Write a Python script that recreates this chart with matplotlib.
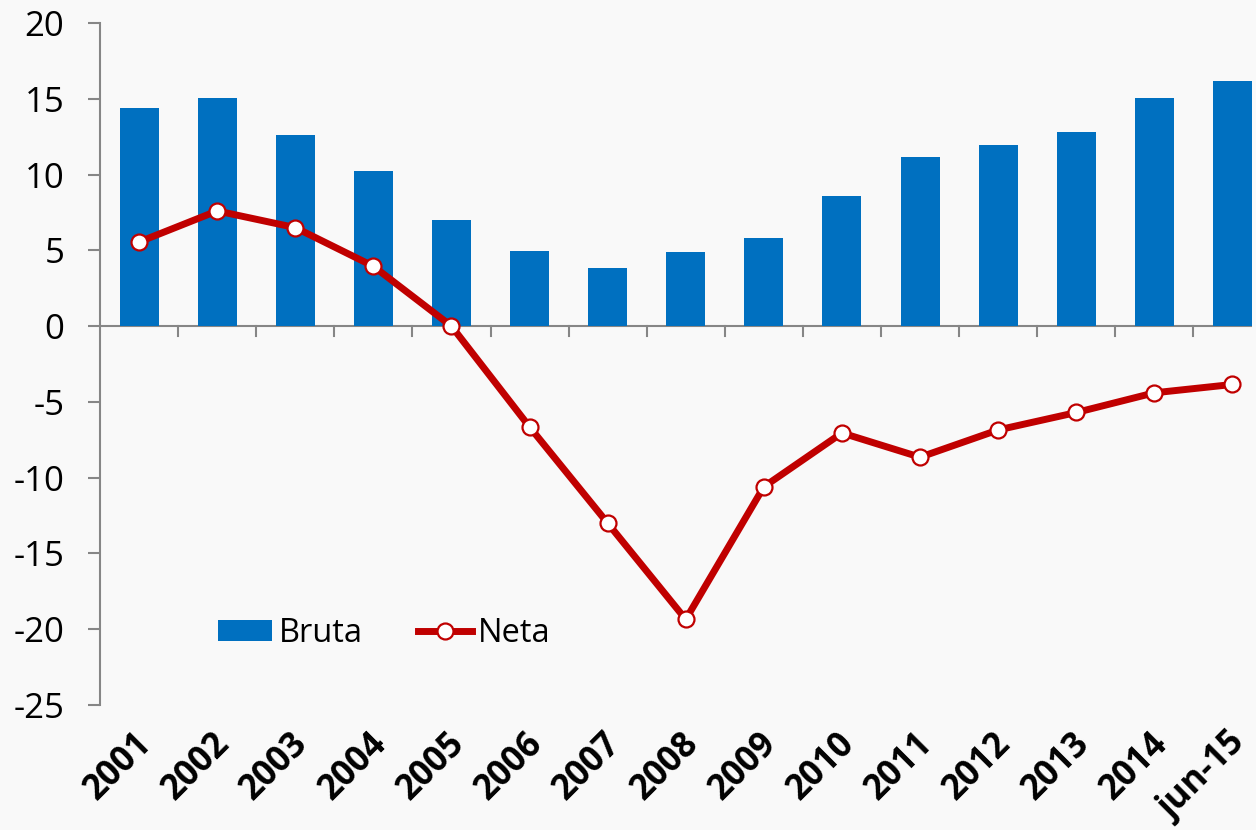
import matplotlib.pyplot as plt
import matplotlib.transforms as mtransforms
import numpy as np

plt.rcParams['font.family'] = ['Open Sans', 'DejaVu Sans']
plt.rcParams['axes.unicode_minus'] = False

# Datos
periodos = ["2001", "2002", "2003", "2004", "2005", "2006", "2007", "2008",
            "2009", "2010", "2011", "2012", "2013", "2014", "jun-15"]
bruta = [14.4, 15.05, 12.6, 10.25, 7.0, 4.95, 3.85, 4.9,
         5.8, 8.6, 11.15, 11.95, 12.8, 15.05, 16.15]
neta = [5.55, 7.6, 6.5, 3.95, 0.0, -6.65, -13.0, -19.35,
        -10.6, -7.05, -8.65, -6.85, -5.7, -4.4, -3.85]

fondo = "#f9f9f9"
gris = "#868686"

fig = plt.figure(figsize=(12.56, 8.30), dpi=100, facecolor=fondo)
ax = fig.add_axes([100/1256, 1-705/830, 1152/1256, 682/830], facecolor=fondo)

x = np.arange(len(periodos))
barras = ax.bar(x, bruta, width=0.5, color="#0070C0", label="Bruta", zorder=2)
linea, = ax.plot(x, neta, color="#C00000", lw=5, marker="o", markersize=11.5,
                 markerfacecolor="white", markeredgecolor="#C00000", markeredgewidth=1.6,
                 label="Neta", zorder=3)

ax.set_xlim(-0.5, 14.25)
ax.set_ylim(-25, 20)
ax.set_yticks(np.arange(-25, 21, 5))

for s in ["top", "right", "bottom"]:
    ax.spines[s].set_visible(False)
ax.spines["left"].set_color(gris)
ax.spines["left"].set_linewidth(1.5)
ax.axhline(0, color=gris, lw=1.5, zorder=1)

# marcas del eje x entre categorías, en la línea del cero
for xm in np.arange(0.5, 14, 1.0):
    ax.plot([xm, xm], [0, -0.65], color=gris, lw=1.5, clip_on=False, zorder=1)

ax.tick_params(axis="y", length=8.6, width=1.5, color=gris, labelsize=25, pad=17)
ax.tick_params(axis="x", length=0, pad=15)
ax.set_xticks(x)
ax.set_xticklabels(periodos, rotation=45, ha="right", rotation_mode="anchor",
                   fontsize=25, fontweight="bold")
desplaza = mtransforms.ScaledTranslation(-0.05, 0, fig.dpi_scale_trans)
for lbl in ax.get_xticklabels():
    lbl.set_transform(lbl.get_transform() + desplaza)

ax.legend([barras, linea], ["Bruta", "Neta"], loc="center left",
          bbox_to_anchor=(0.077, 0.105), ncol=2, frameon=False,
          fontsize=23.5, handlelength=1.65, handleheight=0.6, handletextpad=0.2,
          columnspacing=1.7)

fig.savefig("out.png", dpi=100, facecolor=fondo)
